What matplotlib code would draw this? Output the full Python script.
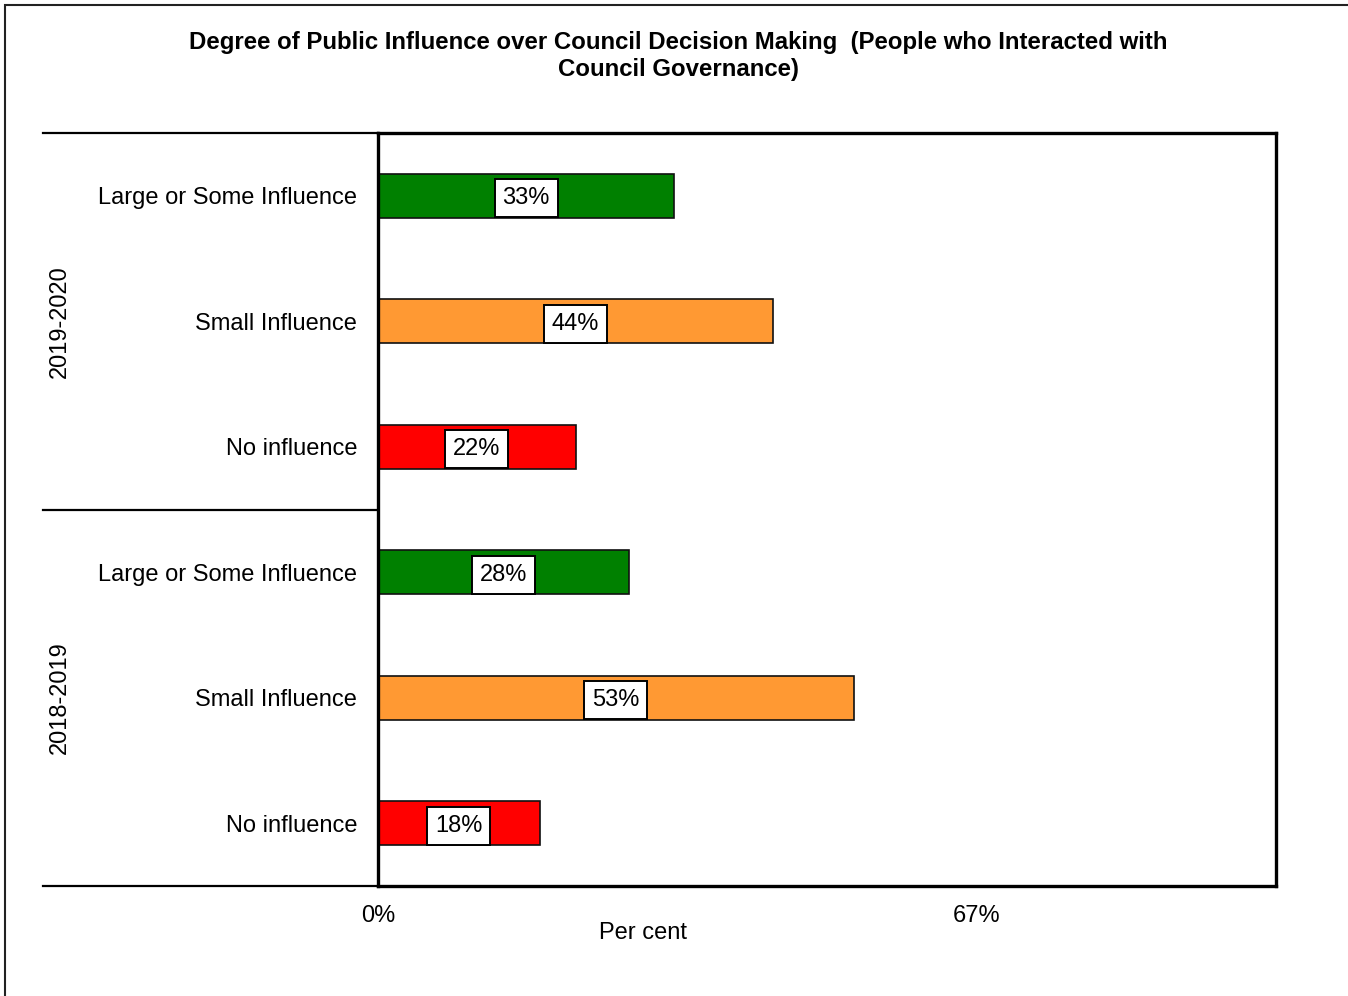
import matplotlib
matplotlib.use("Agg")
import matplotlib.pyplot as plt
import matplotlib.transforms as mtransforms
from matplotlib.patches import Rectangle

plt.rcParams['font.family'] = ['Liberation Sans', 'DejaVu Sans']

# Data
periods = ["2019-2020", "2018-2019"]
categories = ["Large or Some Influence", "Small Influence", "No influence"]
values_2019_2020 = [33, 44, 22]
values_2018_2019 = [28, 53, 18]
bar_colors = ["#008000", "#FF9933", "#FF0000"]
x_ticks = [0, 200 / 3]
x_tick_labels = ["0%", "67%"]

W, H, DPI = 1348, 996, 100
fig = plt.figure(figsize=(W / DPI, H / DPI), dpi=DPI)
fig.patch.set_facecolor("white")

# outer chart frame (left and top edges visible)
fig.patches.append(Rectangle((5 / W, -0.1), 1.2, 1 - 5 / H + 0.1,
                             transform=fig.transFigure, fill=False,
                             edgecolor="#222222", linewidth=1.5))

ax = fig.add_axes([378 / W, 1 - 886 / H, (1276 - 378) / W, (886 - 133) / H])

all_values = values_2019_2020 + values_2018_2019
all_labels = categories + categories
colors = bar_colors + bar_colors
ypos = list(range(len(all_values)))

ax.barh(ypos, all_values, height=0.35, color=colors, edgecolor="#111111",
        linewidth=1.2, zorder=2)

for y, v in zip(ypos, all_values):
    ax.text(v / 2, y, f"{v}%", ha="center", va="center_baseline", fontsize=17,
            bbox=dict(boxstyle="square,pad=0.33", facecolor="white",
                      edgecolor="black", linewidth=1.4), zorder=3)

ax.set_xlim(0, 100)
ax.set_ylim(len(all_values) - 0.5, -0.5)
ax.set_yticks(ypos)
ax.set_yticklabels(all_labels, fontsize=17)
ax.set_xticks(x_ticks)
ax.set_xticklabels(x_tick_labels, fontsize=17)
ax.tick_params(axis="y", length=0, pad=15)
ax.tick_params(axis="x", length=0, pad=14)

for s in ax.spines.values():
    s.set_linewidth(2.4)
    s.set_color("black")

# group separators and period labels on the left
trans = mtransforms.blended_transform_factory(ax.transAxes, ax.transData)
x0 = (43 - 378) / (1276 - 378)
for yb in [-0.5, 2.5, 5.5]:
    ax.plot([x0, 0], [yb, yb], color="black", linewidth=1.6,
            transform=trans, clip_on=False)
xg = (60 - 378) / (1276 - 378)
for i, p in enumerate(periods):
    ax.text(xg, 1 + 3 * i, p, rotation=90, ha="center", va="center",
            fontsize=17, transform=trans)

fig.text(643 / W, 1 - 933 / H, "Per cent", ha="center", va="center", fontsize=17)

fig.text(678 / W, 1 - 56 / H,
         "Degree of Public Influence over Council Decision Making  (People who Interacted with\nCouncil Governance)",
         ha="center", va="center", fontsize=17.3, fontweight="bold", linespacing=1.25)

fig.savefig("out.png", dpi=DPI)
